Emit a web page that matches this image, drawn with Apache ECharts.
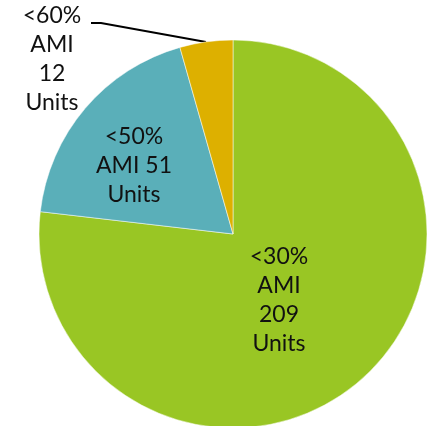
<!DOCTYPE html>
<html>
<head>
<meta charset="utf-8">
<script src="https://cdn.jsdelivr.net/npm/echarts@6/dist/echarts.min.js"></script>
<style>
  html, body { margin: 0; padding: 0; background: #fff; }
  #pie { width: 433px; height: 426px; }
</style>
</head>
<body>
<div id="pie"></div>
<script>
  var names = ['<30%\nAMI\n209\nUnits', '<50%\nAMI 51\nUnits', '<60%\nAMI\n12\nUnits'];
  var units = [209, 51, 12];
  var colors = ['#99c624', '#5aafb9', '#ddb000'];

  // where each label sits (centre of text block)
  var labelSpots = [[279, 300], [134, 166], [52, 59]];

  var chartDom = document.getElementById('pie');
  var myChart = echarts.init(chartDom);
  var option;

  var data = [];
  for (var i = 0; i < names.length; i++) {
    data.push({
      name: names[i],
      value: units[i],
      itemStyle: { color: colors[i] },
      label: { position: i === 2 ? 'outside' : 'inside' },
      labelLine: { show: i === 2 }
    });
  }

  option = {
    animation: false,
    series: [{
      type: 'pie',
      center: [233, 234],
      radius: 194,
      startAngle: 90,
      clockwise: true,
      itemStyle: { borderColor: '#fff', borderWidth: 0.5 },
      label: {
        show: true,
        formatter: '{b}',
        color: '#111',
        fontFamily: 'Lato',
        fontSize: 23,
        lineHeight: 29,
        align: 'center'
      },
      labelLine: {
        lineStyle: { color: '#000', width: 2 },
        length: 10,
        length2: 10
      },
      labelLayout: function (params) {
        var p = labelSpots[params.dataIndex];
        var out = { x: p[0], y: p[1], align: 'center', verticalAlign: 'middle' };
        if (params.dataIndex === 2) {
          // leader line: slice rim -> up-left -> short flat end by "<60%"
          out.labelLinePoints = [[206, 42], [101, 23], [91, 23]];
        }
        return out;
      },
      data: data
    }]
  };

  option && myChart.setOption(option);
</script>
</body>
</html>
